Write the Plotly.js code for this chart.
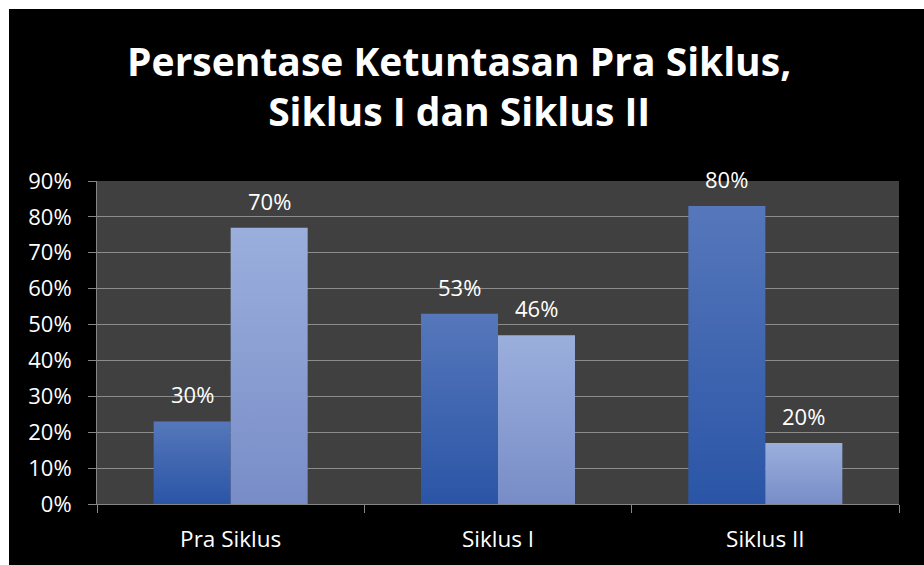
<!DOCTYPE html>
<html>
<head>
<meta charset="utf-8">
<script src="https://cdn.plot.ly/plotly-3.0.1.min.js"></script>
<style>
  html, body { margin: 0; padding: 0; background: #ffffff; }
  #chart { position: absolute; left: 9px; top: 9px; width: 915px; height: 556px; }
</style>
</head>
<body>
<div id="chart"></div>
<script>
// ---- data ----
var categories = ['Pra Siklus', 'Siklus I', 'Siklus II'];
var seriesA = [23, 53, 83];          // darker blue bars (bar heights, %)
var seriesB = [77, 47, 17];          // lighter blue bars (bar heights, %)
var labelsA = ['30%', '53%', '80%']; // data labels as printed
var labelsB = ['70%', '46%', '20%'];
var yTickVals = [0, 10, 20, 30, 40, 50, 60, 70, 80, 90];
var yTickText = ['0%', '10%', '20%', '30%', '40%', '50%', '60%', '70%', '80%', '90%'];
var titleText = 'Persentase Ketuntasan Pra Siklus,<br>Siklus I dan Siklus II';

var baseFont = 'Open Sans, Noto Sans, sans-serif';

var traces = [
  { type: 'bar', x: categories, y: seriesA, name: 'A',
    marker: { color: '#3a64b2', line: { width: 0 } }, hoverinfo: 'none' },
  { type: 'bar', x: categories, y: seriesB, name: 'B',
    marker: { color: '#8a9ed3', line: { width: 0 } }, hoverinfo: 'none' }
];

var annotations = [];
function addLabels(vals, labels, shift) {
  for (var i = 0; i < categories.length; i++) {
    annotations.push({
      x: categories[i], y: vals[i], xref: 'x', yref: 'y',
      text: labels[i], showarrow: false,
      xanchor: 'center', yanchor: 'middle',
      xshift: shift, yshift: 27,
      font: { family: baseFont, size: 22, color: '#ffffff' }
    });
  }
}
addLabels(seriesA, labelsA, -38.5);
addLabels(seriesB, labelsB, 38.5);

var layout = {
  width: 915, height: 556,
  paper_bgcolor: '#000000',
  plot_bgcolor: '#404040',
  margin: { l: 88, r: 25, t: 172, b: 61 },
  showlegend: false,
  barmode: 'group',
  bargap: 0.424,
  bargroupgap: 0,
  title: {
    text: titleText,
    font: { family: 'Open Sans, sans-serif', size: 39, color: '#ffffff', weight: 'bold', lineposition: 'none' },
    xref: 'container', x: 0.492, xanchor: 'center',
    yref: 'container', y: 0.88, yanchor: 'top'
  },
  xaxis: {
    type: 'category',
    showgrid: false,
    showline: true, linecolor: '#868686', linewidth: 1,
    ticks: 'outside', tickson: 'boundaries', ticklen: 8, tickcolor: '#868686', tickwidth: 1,
    ticklabelstandoff: 15,
    tickfont: { family: baseFont, size: 22.5, color: '#ffffff' },
    fixedrange: true
  },
  yaxis: {
    range: [0, 90],
    tickvals: yTickVals, ticktext: yTickText,
    showgrid: true, gridcolor: '#8c8c8c', gridwidth: 1,
    zeroline: false,
    showline: true, linecolor: '#868686', linewidth: 1,
    ticks: 'outside', ticklen: 8, tickcolor: '#868686', tickwidth: 1,
    ticklabelstandoff: 12,
    tickfont: { family: baseFont, size: 22, color: '#ffffff' },
    fixedrange: true
  },
  annotations: annotations
};

Plotly.newPlot('chart', traces, layout, { displayModeBar: false, staticPlot: true }).then(function () {
  var svg = document.querySelector('#chart .main-svg');
  var defs = svg.querySelector('defs');
  var ns = 'http://www.w3.org/2000/svg';
  function grad(id, top, bottom) {
    var g = document.createElementNS(ns, 'linearGradient');
    g.setAttribute('id', id);
    g.setAttribute('x1', '0'); g.setAttribute('y1', '0');
    g.setAttribute('x2', '0'); g.setAttribute('y2', '1');
    var s1 = document.createElementNS(ns, 'stop');
    s1.setAttribute('offset', '0'); s1.setAttribute('stop-color', top);
    var s2 = document.createElementNS(ns, 'stop');
    s2.setAttribute('offset', '1'); s2.setAttribute('stop-color', bottom);
    g.appendChild(s1); g.appendChild(s2);
    defs.appendChild(g);
  }
  grad('gradA', '#5677bb', '#2a55a6');
  grad('gradB', '#9bafdd', '#788dc7');
  var tr = document.querySelectorAll('#chart .barlayer .trace');
  var ids = ['gradA', 'gradB'];
  tr.forEach(function (t, k) {
    t.querySelectorAll('.point path').forEach(function (p) {
      p.style.fill = 'url(#' + ids[k] + ')';
    });
  });
});
</script>
</body>
</html>
